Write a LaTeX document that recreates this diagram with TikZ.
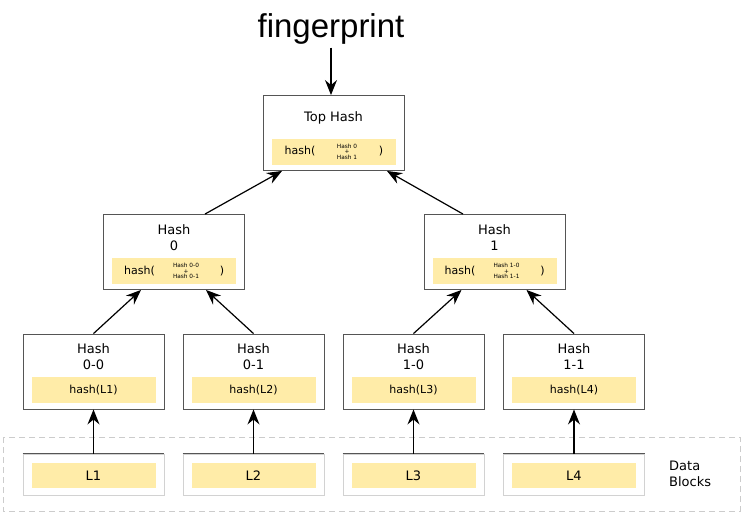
\documentclass[tikz,border=0pt]{standalone}
\usepackage{fontspec}
\setmainfont{DejaVu Sans}
\newfontfamily\fpfont{Liberation Sans}
\usetikzlibrary{arrows.meta,calc}
\definecolor{hashyellow}{RGB}{255,236,168}
\definecolor{boxgray}{RGB}{85,85,85}
\tikzset{
  hbox/.style={draw=boxgray, line width=0.9pt, fill=white, minimum width=141pt, minimum height=75pt, inner sep=0pt},
  dbox/.style={draw=gray!35, line width=0.9pt, fill=white, minimum width=141pt, minimum height=41pt, inner sep=0pt},
  ybox/.style={fill=hashyellow, minimum width=124pt, minimum height=26pt, inner sep=0pt},
  ttl/.style={font=\fontsize{13}{16}\selectfont, align=center, inner sep=0pt},
  htxt/.style={font=\fontsize{11}{13}\selectfont, inner sep=0pt},
  tiny/.style={font=\fontsize{5.8}{5.6}\selectfont, align=center, inner sep=0pt},
  arr/.style={-{Stealth[length=15pt,width=12pt,inset=5pt]}, line width=1.2pt, black},
}
\begin{document}
\begin{tikzpicture}[x=1pt,y=-1pt]
\path[use as bounding box] (0,0) rectangle (745,519);
% fingerprint
\node[font=\fpfont\fontsize{33}{36}\selectfont, inner sep=0pt] (fp) at (331,29) {fingerprint};
% dashed data blocks frame
\draw[gray!40, line width=1pt, dash pattern=on 6pt off 4pt] (3,437) rectangle (740,511);
\node[ttl, align=left, anchor=west] (dbl) at (669,473.5) {Data\\Blocks};
% Top hash
\node[hbox] (top) at (333.5,133) {};
\node[ttl] (toptl) at (333.5,118) {Top Hash};
\node[ybox] (topy) at (333.5,151.5) {};
\node[htxt] (toph) at (300,151.5) {hash(};
\node[tiny] (topi) at (347,151.5) {Hash 0\\+\\Hash 1};
\node[htxt] (topc) at (381,151.5) {)};
% Hash 0 and Hash 1
\foreach \n/\x/\l/\a/\b in {h0/174/0/0-0/0-1, h1/494.5/1/1-0/1-1}{
  \node[hbox] (\n) at (\x,252) {};
  \node[ttl] (\n t) at (\x,237.5) {Hash\\\l};
  \node[ybox] (\n y) at (\x,271) {};
  \node[htxt] (\n h) at (\x-34.5,271) {hash(};
  \node[tiny] (\n i) at (\x+12,271) {Hash \a\\+\\Hash \b};
  \node[htxt] (\n c) at (\x+48,271) {)};
}
% leaf hashes and data blocks
\foreach \n/\x/\l/\d in {h00/93.5/0-0/1, h01/253.5/0-1/2, h10/413.5/1-0/3, h11/574/1-1/4}{
  \node[hbox] (\n) at (\x,371.5) {};
  \node[ttl] (\n t) at (\x,356.5) {Hash\\\l};
  \node[ybox] (\n y) at (\x,390) {};
  \node[htxt] (\n h) at (\x,390) {hash(L\d)};
  \node[dbox] (\n d) at (\x,474.5) {};
  \draw[boxgray, line width=0.9pt] (\n d.north west) -- (\n d.north east);
  \node[ybox, minimum height=25pt] (\n dy) at (\x,475.5) {};
  \node[ttl] (\n dl) at (\x,475.5) {L\d};
  \draw[arr] (\n d.north) -- (\n.south);
}
% connectors
\draw[arr] (fp.south) ++(0,3) coordinate (fps) (fps) -- (fps |- top.north);
\draw[arr] ($(h0.north)+(31,0)$) -- ($(top.south)+(-51.5,0)$);
\draw[arr] ($(h1.north)+(-31.5,0)$) -- ($(top.south)+(53.5,0)$);
\draw[arr] (h00.north) -- ($(h0.south)+(-33,0)$);
\draw[arr] (h01.north) -- ($(h0.south)+(32,0)$);
\draw[arr] (h10.north) -- ($(h1.south)+(-33,0)$);
\draw[arr] (h11.north) -- ($(h1.south)+(32,0)$);
\end{tikzpicture}
\end{document}
